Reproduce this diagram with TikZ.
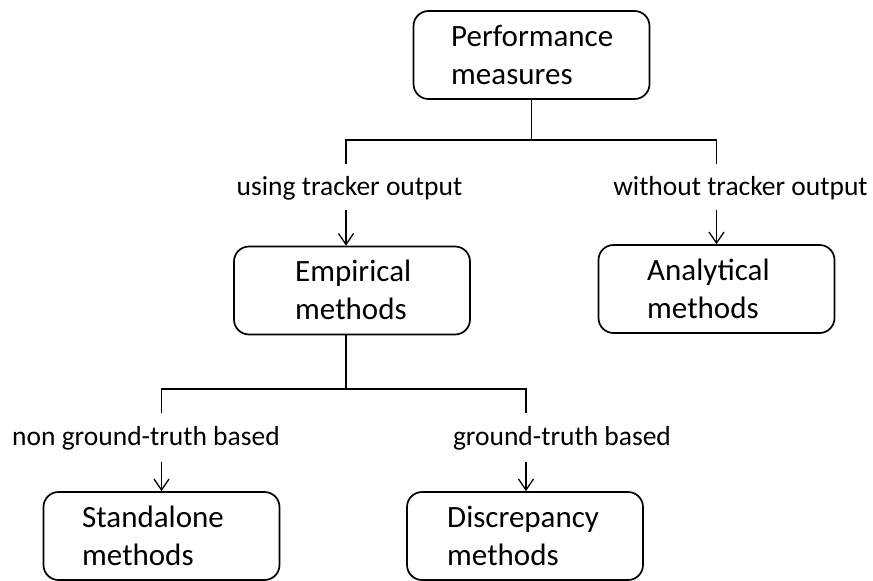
\documentclass[tikz,border=0pt]{standalone}
\usepackage{fontspec}
\setmainfont{Carlito}
\usetikzlibrary{arrows.meta}
\begin{document}
\begin{tikzpicture}[x=1pt,y=-1pt,
  box/.style={draw, line width=1.7pt, rounded corners=15pt, minimum width=236pt, minimum height=88pt, inner sep=0pt},
  boxtext/.style={align=left, font=\fontsize{31}{38}\selectfont, inner sep=0pt},
  lbl/.style={font=\fontsize{27.5}{33}\selectfont, inner sep=0pt},
  conn/.style={line width=1.3pt},
  arr/.style={line width=1.3pt, -{Straight Barb[length=11pt,width=15pt,line width=1.3pt]}}]
\useasboundingbox (0,0) rectangle (873,581);

% boxes
\node[box] (perf)  at (531.5,55)   {};
\node[box] (emp)   at (352,290.5)  {};
\node[box] (ana)   at (716.5,289)  {};
\node[box] (stand) at (161.5,536)  {};
\node[box] (disc)  at (525,536)    {};

% box captions
\node[boxtext, anchor=west] (perft)  at (451,55)  {Performance\\measures};
\node[boxtext, anchor=west] (empt)   at (295,290) {Empirical\\methods};
\node[boxtext, anchor=west] (anat)   at (647,289) {Analytical\\methods};
\node[boxtext, anchor=west] (standt) at (82,536)  {Standalone\\methods};
\node[boxtext, anchor=west] (disct)  at (447,536) {Discrepancy\\methods};

% branch labels
\node[lbl] (l1) at (349.5,188) {using tracker output};
\node[lbl] (l2) at (740.5,188) {without tracker output};
\node[lbl] (l3) at (146,438)   {non ground-truth based};
\node[lbl] (l4) at (562,438)   {ground-truth based};

% junction points
\coordinate (j0) at (531.5,140);
\coordinate (jl) at (346,140);
\coordinate (jr) at (716.5,140);
\coordinate (el) at (346,164);
\coordinate (er) at (716.5,164);
\coordinate (al) at (346,210);
\coordinate (ar) at (716.5,210);

\coordinate (k0) at (346,389);
\coordinate (kl) at (161.5,389);
\coordinate (kr) at (526,389);
\coordinate (fl) at (161.5,413);
\coordinate (fr) at (526,413);
\coordinate (bl) at (161.5,462);
\coordinate (br) at (526,462);

% upper tree
\draw[conn] (perf.south) -- (j0);
\draw[conn] (el) -- (jl) -- (jr) -- (er);
\draw[arr] (al) -- (emp.north -| al);
\draw[arr] (ar) -- (ana.north -| ar);

% lower tree
\draw[conn] (emp.south -| k0) -- (k0);
\draw[conn] (fl) -- (kl) -- (kr) -- (fr);
\draw[arr] (bl) -- (stand.north -| bl);
\draw[arr] (br) -- (disc.north -| br);
\end{tikzpicture}
\end{document}
